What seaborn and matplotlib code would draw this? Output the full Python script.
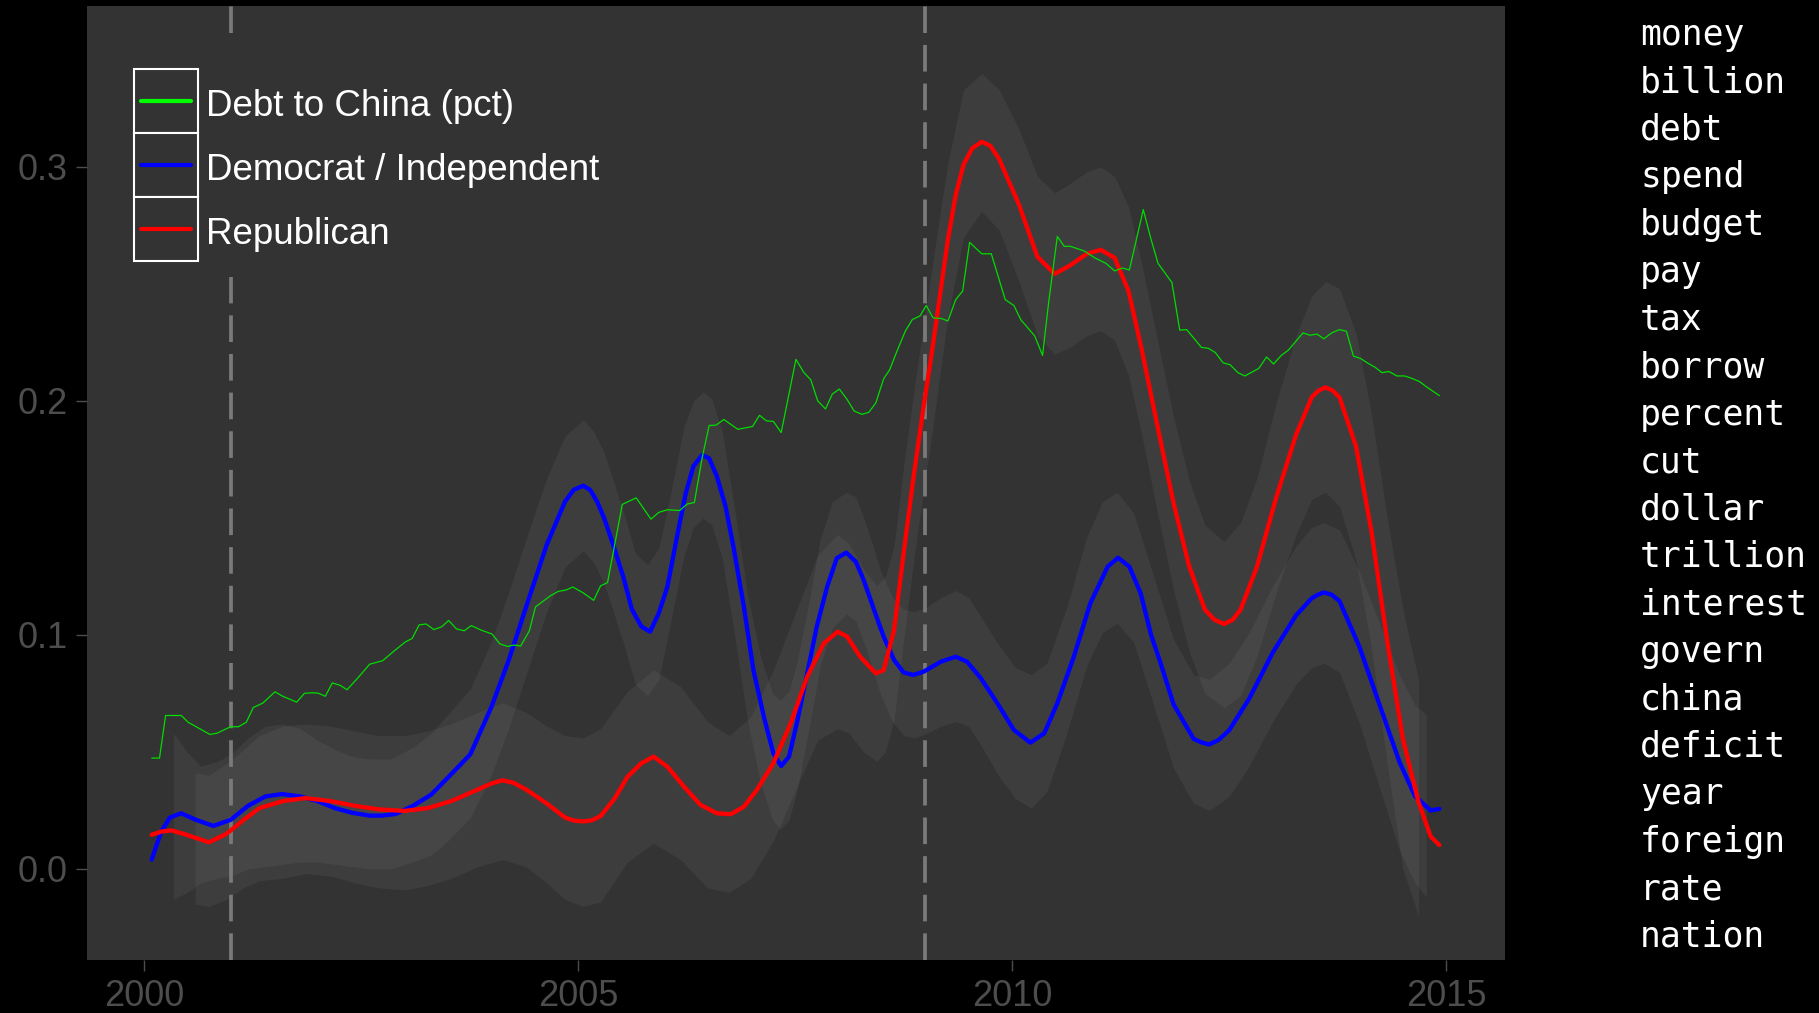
import numpy as np
import pandas as pd
import matplotlib
matplotlib.use("Agg")
import matplotlib.pyplot as plt
import seaborn as sns
from matplotlib.patches import Rectangle
from matplotlib.lines import Line2D

# ---------------- data ----------------
series_names = ["Debt to China (pct)", "Democrat / Independent", "Republican"]
series_colors = ["#00dd00", "#0000ff", "#ff0000"]

china_x = [2000.09, 2000.18, 2000.25, 2000.43, 2000.51, 2000.67, 2000.76, 2000.84, 2001.00, 2001.09,
           2001.18, 2001.26, 2001.37, 2001.51, 2001.60, 2001.76, 2001.85, 2001.95, 2002.01, 2002.09,
           2002.17, 2002.26, 2002.34, 2002.48, 2002.60, 2002.75, 2002.87, 2003.01, 2003.09, 2003.17,
           2003.25, 2003.34, 2003.43, 2003.51, 2003.60, 2003.69, 2003.77, 2003.89, 2004.01, 2004.10,
           2004.19, 2004.26, 2004.34, 2004.44, 2004.51, 2004.68, 2004.77, 2004.86, 2004.94, 2005.06,
           2005.18, 2005.26, 2005.34, 2005.51, 2005.67, 2005.84, 2005.93, 2006.03, 2006.17, 2006.26,
           2006.34, 2006.43, 2006.51, 2006.59, 2006.68, 2006.84, 2007.01, 2007.09, 2007.17, 2007.25,
           2007.34, 2007.51, 2007.60, 2007.68, 2007.76, 2007.85, 2007.93, 2008.01, 2008.10, 2008.18,
           2008.27, 2008.35, 2008.43, 2008.52, 2008.59, 2008.68, 2008.77, 2008.85, 2008.94, 2009.01,
           2009.09, 2009.18, 2009.26, 2009.35, 2009.43, 2009.51, 2009.65, 2009.76, 2009.92, 2010.02,
           2010.10, 2010.26, 2010.35, 2010.42, 2010.52, 2010.60, 2010.67, 2010.83, 2010.95, 2011.08,
           2011.18, 2011.27, 2011.35, 2011.51, 2011.60, 2011.68, 2011.84, 2011.93, 2012.01, 2012.18,
           2012.26, 2012.34, 2012.43, 2012.51, 2012.60, 2012.68, 2012.84, 2012.93, 2013.01, 2013.10,
           2013.18, 2013.27, 2013.35, 2013.43, 2013.51, 2013.59, 2013.68, 2013.77, 2013.85, 2013.93,
           2014.01, 2014.09, 2014.18, 2014.26, 2014.34, 2014.43, 2014.52, 2014.60, 2014.69, 2014.77,
           2014.92]
china_y = [0.0474, 0.0474, 0.0656, 0.0656, 0.0627, 0.0594, 0.0575, 0.0580, 0.0608, 0.0608,
           0.0627, 0.0690, 0.0709, 0.0757, 0.0738, 0.0713, 0.0751, 0.0753, 0.0751, 0.0738,
           0.0795, 0.0785, 0.0766, 0.0823, 0.0875, 0.0890, 0.0928, 0.0970, 0.0985, 0.1043,
           0.1047, 0.1023, 0.1035, 0.1062, 0.1026, 0.1018, 0.1040, 0.1020, 0.1004, 0.0962,
           0.0951, 0.0957, 0.0953, 0.1018, 0.1120, 0.1167, 0.1186, 0.1192, 0.1205, 0.1180,
           0.1148, 0.1210, 0.1224, 0.1558, 0.1586, 0.1495, 0.1524, 0.1535, 0.1532, 0.1560,
           0.1566, 0.1758, 0.1895, 0.1897, 0.1921, 0.1879, 0.1891, 0.1939, 0.1915, 0.1913,
           0.1865, 0.2178, 0.2122, 0.2091, 0.2001, 0.1966, 0.2030, 0.2051, 0.2006, 0.1957,
           0.1943, 0.1952, 0.1992, 0.2095, 0.2134, 0.2219, 0.2299, 0.2348, 0.2364, 0.2408,
           0.2355, 0.2353, 0.2342, 0.2433, 0.2470, 0.2678, 0.2629, 0.2629, 0.2433, 0.2408,
           0.2347, 0.2278, 0.2195, 0.2420, 0.2703, 0.2661, 0.2661, 0.2641, 0.2612, 0.2588,
           0.2556, 0.2568, 0.2560, 0.2818, 0.2690, 0.2588, 0.2506, 0.2303, 0.2305, 0.2229,
           0.2225, 0.2207, 0.2163, 0.2155, 0.2121, 0.2107, 0.2139, 0.2188, 0.2158, 0.2195,
           0.2217, 0.2256, 0.2291, 0.2281, 0.2286, 0.2266, 0.2291, 0.2305, 0.2298, 0.2192,
           0.2182, 0.2163, 0.2144, 0.2121, 0.2126, 0.2107, 0.2107, 0.2097, 0.2083, 0.2061,
           0.2023]

dem_x = [2000.09, 2000.20, 2000.30, 2000.43, 2000.60, 2000.80, 2001.00, 2001.20, 2001.40, 2001.59,
         2001.80, 2002.00, 2002.20, 2002.40, 2002.60, 2002.74, 2002.90, 2003.10, 2003.31, 2003.50,
         2003.76, 2004.00, 2004.20, 2004.42, 2004.64, 2004.85, 2004.95, 2005.06, 2005.14, 2005.22,
         2005.30, 2005.41, 2005.52, 2005.62, 2005.73, 2005.83, 2005.93, 2006.03, 2006.14, 2006.24,
         2006.33, 2006.43, 2006.51, 2006.60, 2006.70, 2006.79, 2006.91, 2007.02, 2007.14, 2007.25,
         2007.34, 2007.43, 2007.52, 2007.64, 2007.75, 2007.87, 2007.98, 2008.09, 2008.20, 2008.29,
         2008.41, 2008.52, 2008.64, 2008.75, 2008.86, 2008.98, 2009.18, 2009.35, 2009.48, 2009.64,
         2009.83, 2010.02, 2010.21, 2010.37, 2010.52, 2010.71, 2010.90, 2011.10, 2011.22, 2011.35,
         2011.48, 2011.60, 2011.71, 2011.86, 2012.09, 2012.18, 2012.27, 2012.38, 2012.50, 2012.73,
         2013.00, 2013.27, 2013.45, 2013.52, 2013.59, 2013.68, 2013.77, 2014.00, 2014.23, 2014.46,
         2014.64, 2014.82, 2014.92]
dem_y = [0.0040, 0.0160, 0.0220, 0.0238, 0.0210, 0.0184, 0.0210, 0.0270, 0.0310, 0.0320,
         0.0310, 0.0290, 0.0260, 0.0240, 0.0228, 0.0228, 0.0235, 0.0270, 0.0318, 0.0390,
         0.0490, 0.0690, 0.0890, 0.1140, 0.1386, 0.1570, 0.1620, 0.1638, 0.1620, 0.1570,
         0.1500, 0.1380, 0.1250, 0.1110, 0.1036, 0.1014, 0.1093, 0.1207, 0.1420, 0.1605,
         0.1722, 0.1769, 0.1755, 0.1677, 0.1548, 0.1377, 0.1121, 0.0850, 0.0651, 0.0494,
         0.0440, 0.0480, 0.0623, 0.0836, 0.1036, 0.1207, 0.1328, 0.1352, 0.1313, 0.1235,
         0.1107, 0.0993, 0.0893, 0.0840, 0.0829, 0.0843, 0.0886, 0.0907, 0.0886, 0.0815,
         0.0708, 0.0594, 0.0540, 0.0580, 0.0708, 0.0907, 0.1135, 0.1292, 0.1330, 0.1292,
         0.1178, 0.1000, 0.0879, 0.0703, 0.0556, 0.0541, 0.0532, 0.0552, 0.0593, 0.0728,
         0.0924, 0.1084, 0.1157, 0.1172, 0.1182, 0.1172, 0.1145, 0.0949, 0.0703, 0.0458,
         0.0311, 0.0250, 0.0257]

rep_x = [2000.09, 2000.20, 2000.32, 2000.50, 2000.75, 2000.95, 2001.15, 2001.33, 2001.60, 2001.86,
         2002.15, 2002.43, 2002.70, 2003.00, 2003.27, 2003.54, 2003.85, 2004.00, 2004.13, 2004.26,
         2004.40, 2004.64, 2004.85, 2004.95, 2005.06, 2005.16, 2005.26, 2005.42, 2005.57, 2005.73,
         2005.87, 2006.03, 2006.22, 2006.41, 2006.60, 2006.76, 2006.91, 2007.06, 2007.25, 2007.45,
         2007.64, 2007.83, 2007.99, 2008.10, 2008.25, 2008.43, 2008.52, 2008.64, 2008.75, 2008.87,
         2008.98, 2009.08, 2009.26, 2009.35, 2009.44, 2009.54, 2009.65, 2009.75, 2009.85, 2010.08,
         2010.29, 2010.49, 2010.67, 2010.86, 2011.02, 2011.18, 2011.34, 2011.49, 2011.68, 2011.86,
         2012.04, 2012.22, 2012.33, 2012.44, 2012.54, 2012.63, 2012.82, 2013.04, 2013.27, 2013.45,
         2013.53, 2013.61, 2013.69, 2013.77, 2013.96, 2014.14, 2014.32, 2014.50, 2014.68, 2014.82,
         2014.92]
rep_y = [0.0146, 0.0160, 0.0165, 0.0145, 0.0114, 0.0150, 0.0210, 0.0260, 0.0290, 0.0303,
         0.0290, 0.0270, 0.0255, 0.0248, 0.0260, 0.0290, 0.0340, 0.0365, 0.0379, 0.0368,
         0.0340, 0.0280, 0.0220, 0.0207, 0.0203, 0.0208, 0.0226, 0.0300, 0.0394, 0.0452,
         0.0480, 0.0437, 0.0352, 0.0274, 0.0238, 0.0234, 0.0266, 0.0338, 0.0452, 0.0623,
         0.0822, 0.0964, 0.1014, 0.0993, 0.0907, 0.0836, 0.0850, 0.1021, 0.1349, 0.1690,
         0.1976, 0.2220, 0.2690, 0.2880, 0.3010, 0.3080, 0.3108, 0.3090, 0.3034, 0.2838,
         0.2617, 0.2543, 0.2580, 0.2629, 0.2646, 0.2612, 0.2470, 0.2224, 0.1881, 0.1562,
         0.1292, 0.1108, 0.1065, 0.1047, 0.1065, 0.1108, 0.1292, 0.1586, 0.1856, 0.2016,
         0.2045, 0.2058, 0.2045, 0.2016, 0.1807, 0.1439, 0.0973, 0.0556, 0.0286, 0.0139,
         0.0102]

dem_band_x = [2000.34, 2000.50, 2000.65, 2000.85, 2001.00, 2001.20, 2001.40, 2001.60, 2001.80, 2002.00,
              2002.20, 2002.40, 2002.60, 2002.84, 2003.10, 2003.31, 2003.50, 2003.76, 2004.00, 2004.20,
              2004.42, 2004.64, 2004.85, 2005.06, 2005.18, 2005.30, 2005.52, 2005.66, 2005.80, 2005.93,
              2006.06, 2006.22, 2006.33, 2006.44, 2006.54, 2006.66, 2006.79, 2006.95, 2007.10, 2007.24,
              2007.33, 2007.43, 2007.52, 2007.66, 2007.79, 2007.93, 2008.09, 2008.20, 2008.33, 2008.48,
              2008.62, 2008.75, 2008.87, 2009.02, 2009.18, 2009.35, 2009.50, 2009.67, 2009.84, 2010.04,
              2010.22, 2010.40, 2010.63, 2010.86, 2011.04, 2011.21, 2011.40, 2011.63, 2011.86, 2012.09,
              2012.27, 2012.50, 2012.73, 2013.00, 2013.27, 2013.45, 2013.59, 2013.77, 2014.00, 2014.23,
              2014.46, 2014.64, 2014.77]
dem_band_lo = [-0.013, -0.010, -0.006, -0.004, -0.003, 0.000, 0.001, 0.002, 0.003, 0.003,
               0.002, 0.001, 0.000, 0.000, 0.003, 0.006, 0.012, 0.022, 0.040, 0.060,
               0.085, 0.110, 0.129, 0.136, 0.131, 0.122, 0.097, 0.079, 0.074, 0.081,
               0.104, 0.134, 0.146, 0.150, 0.147, 0.133, 0.103, 0.064, 0.037, 0.021,
               0.017, 0.021, 0.033, 0.060, 0.087, 0.103, 0.109, 0.106, 0.093, 0.075,
               0.063, 0.057, 0.056, 0.058, 0.061, 0.063, 0.061, 0.051, 0.040, 0.030,
               0.026, 0.033, 0.058, 0.087, 0.101, 0.105, 0.097, 0.070, 0.043, 0.028,
               0.025, 0.031, 0.044, 0.063, 0.079, 0.086, 0.088, 0.084, 0.062, 0.035,
               0.008, -0.006, -0.012]
dem_band_hi = [0.058, 0.050, 0.044, 0.046, 0.049, 0.056, 0.061, 0.062, 0.060, 0.055,
               0.051, 0.048, 0.047, 0.047, 0.052, 0.058, 0.066, 0.077, 0.097, 0.118,
               0.143, 0.167, 0.185, 0.192, 0.187, 0.178, 0.153, 0.135, 0.130, 0.137,
               0.159, 0.189, 0.200, 0.204, 0.201, 0.187, 0.157, 0.118, 0.091, 0.075,
               0.072, 0.076, 0.088, 0.114, 0.141, 0.157, 0.161, 0.159, 0.146, 0.128,
               0.116, 0.111, 0.110, 0.112, 0.116, 0.119, 0.116, 0.106, 0.096, 0.086,
               0.083, 0.088, 0.112, 0.142, 0.157, 0.161, 0.152, 0.125, 0.098, 0.083,
               0.081, 0.088, 0.101, 0.121, 0.138, 0.146, 0.148, 0.145, 0.127, 0.105,
               0.083, 0.070, 0.066]

rep_band_x = [2000.59, 2000.75, 2000.95, 2001.15, 2001.33, 2001.60, 2001.86, 2002.15, 2002.43, 2002.70,
              2003.00, 2003.27, 2003.54, 2003.85, 2004.13, 2004.40, 2004.64, 2004.85, 2005.06, 2005.26,
              2005.57, 2005.87, 2006.18, 2006.49, 2006.74, 2006.99, 2007.25, 2007.52, 2007.76, 2007.99,
              2008.12, 2008.29, 2008.44, 2008.54, 2008.64, 2008.75, 2008.87, 2008.98, 2009.08, 2009.26,
              2009.44, 2009.65, 2009.85, 2010.08, 2010.29, 2010.49, 2010.67, 2010.86, 2011.02, 2011.18,
              2011.34, 2011.49, 2011.68, 2011.86, 2012.04, 2012.22, 2012.44, 2012.63, 2012.82, 2013.04,
              2013.27, 2013.45, 2013.61, 2013.77, 2013.96, 2014.14, 2014.32, 2014.50, 2014.68]
rep_band_lo = [-0.015, -0.016, -0.013, -0.008, -0.005, -0.004, -0.002, -0.003, -0.006, -0.008,
               -0.009, -0.007, -0.004, 0.001, 0.004, 0.001, -0.006, -0.013, -0.016, -0.014,
               0.003, 0.011, 0.004, -0.008, -0.010, -0.004, 0.012, 0.035, 0.055, 0.060,
               0.058, 0.050, 0.046, 0.050, 0.064, 0.098, 0.133, 0.162, 0.187, 0.236,
               0.270, 0.281, 0.273, 0.251, 0.228, 0.220, 0.223, 0.228, 0.230, 0.226,
               0.211, 0.186, 0.151, 0.119, 0.093, 0.075, 0.069, 0.074, 0.091, 0.118,
               0.143, 0.158, 0.161, 0.155, 0.132, 0.094, 0.045, 0.000, -0.020]
rep_band_hi = [0.041, 0.040, 0.045, 0.051, 0.057, 0.061, 0.062, 0.061, 0.059, 0.057,
               0.057, 0.059, 0.062, 0.067, 0.071, 0.067, 0.061, 0.057, 0.056, 0.060,
               0.076, 0.085, 0.078, 0.063, 0.057, 0.065, 0.085, 0.111, 0.134, 0.143,
               0.139, 0.128, 0.121, 0.125, 0.138, 0.172, 0.205, 0.233, 0.258, 0.302,
               0.333, 0.340, 0.333, 0.316, 0.296, 0.289, 0.293, 0.298, 0.300, 0.296,
               0.283, 0.259, 0.225, 0.193, 0.166, 0.147, 0.140, 0.148, 0.167, 0.199,
               0.228, 0.245, 0.251, 0.248, 0.229, 0.194, 0.150, 0.111, 0.081]

event_years = [2001.0, 2009.0]
x_ticks = [2000, 2005, 2010, 2015]
y_ticks = [0.0, 0.1, 0.2, 0.3]
words = ["money", "billion", "debt", "spend", "budget", "pay", "tax", "borrow", "percent", "cut",
         "dollar", "trillion", "interest", "govern", "china", "deficit", "year", "foreign", "rate", "nation"]

# ---------------- style ----------------
sns.set_theme(style="dark")
plt.rcParams["font.family"] = ["Liberation Sans", "DejaVu Sans"]

W, H = 1819, 1013
fig = plt.figure(figsize=(W / 100, H / 100), dpi=100, facecolor="black")
ax = fig.add_axes([87 / W, 1 - 960 / H, 1418 / W, 954 / H])
ax.set_facecolor("#333333")
for s in ax.spines.values():
    s.set_visible(False)
ax.grid(False)

# confidence bands
ax.fill_between(dem_band_x, dem_band_lo, dem_band_hi, color="white", alpha=0.05, lw=0, zorder=1)
ax.fill_between(rep_band_x, rep_band_lo, rep_band_hi, color="white", alpha=0.05, lw=0, zorder=1)

# event lines
for ev in event_years:
    ax.axvline(ev, color="#7a7a7a", lw=2.7, linestyle=(0, (7.1, 3.2)), zorder=1.5)

dem_df = pd.DataFrame({"year": dem_x, "value": dem_y})
rep_df = pd.DataFrame({"year": rep_x, "value": rep_y})
china_df = pd.DataFrame({"year": china_x, "value": china_y})

sns.lineplot(data=dem_df, x="year", y="value", ax=ax, color=series_colors[1], lw=3.1,
             legend=False, estimator=None, sort=False, zorder=3,
             solid_joinstyle="round", solid_capstyle="round")
sns.lineplot(data=rep_df, x="year", y="value", ax=ax, color=series_colors[2], lw=3.1,
             legend=False, estimator=None, sort=False, zorder=4,
             solid_joinstyle="round", solid_capstyle="round")
sns.lineplot(data=china_df, x="year", y="value", ax=ax, color=series_colors[0], lw=0.9,
             legend=False, estimator=None, sort=False, zorder=5)

ax.set_xlim(1999.345, 2015.676)
ax.set_ylim(-0.0389, 0.3688)
ax.set_xticks(x_ticks)
ax.set_xticklabels([str(t) for t in x_ticks])
ax.set_yticks(y_ticks)
ax.set_yticklabels(["%.1f" % t for t in y_ticks])
ax.set_xlabel("")
ax.set_ylabel("")
ax.tick_params(axis="both", colors="#4d4d4d", labelcolor="#4d4d4d", labelsize=26,
               length=8, width=1, direction="out", bottom=True, left=True)
ax.tick_params(axis="x", pad=6)
ax.tick_params(axis="y", pad=6)


def fx(px):
    return px / W


def fy(py):
    return 1 - py / H


# legend (ggplot-like keyed cells)
fig.add_artist(Rectangle((fx(118), fy(277)), (615 - 118) / W, (277 - 37) / H,
                         transform=fig.transFigure, facecolor="#333333", edgecolor="none", zorder=5))
for i, (name, col) in enumerate(zip(series_names, series_colors)):
    top = 69 + 64 * i
    fig.add_artist(Rectangle((fx(134), fy(top + 64)), 64 / W, 64 / H, transform=fig.transFigure,
                             facecolor="#333333", edgecolor="white", lw=1.5, zorder=6))
    cy = top + 32
    kc = "#00ff00" if i == 0 else col
    fig.add_artist(Line2D([fx(141), fx(191)], [fy(cy), fy(cy)], color=kc, lw=3.0,
                          transform=fig.transFigure, zorder=7))
    fig.text(fx(206), fy(cy + 5), name, color="white", fontsize=26.5, va="center", ha="left", zorder=7)

# word list on the right
for i, w in enumerate(words):
    fig.text(fx(1640), fy(45 + 47.45 * i), w, color="white", fontsize=25,
             family=["DejaVu Sans Mono"], va="baseline", ha="left")

fig.savefig("out.png", dpi=100, facecolor="black")
